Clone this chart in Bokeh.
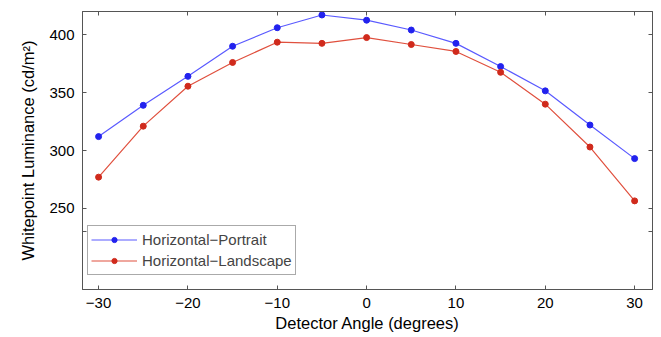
from bokeh.plotting import figure
from bokeh.models import LinearAxis, FixedTicker, Range1d, Legend, LegendItem
from bokeh.embed import file_html
from bokeh.resources import INLINE

angles = [-30, -25, -20, -15, -10, -5, 0, 5, 10, 15, 20, 25, 30]
portrait = [312, 339, 364, 390, 406, 417, 412.5, 404, 392.5, 372.5, 351.5, 322, 293]
landscape = [277, 321, 355.5, 376, 393.5, 392.5, 397.5, 391.5, 385.5, 367.5, 340, 303, 256.5]
x_ticks = [-30, -20, -10, 0, 10, 20, 30]
y_ticks = [230, 250, 300, 350, 400]
y_labels = {230: "", 250: "250", 300: "300", 350: "350", 400: "400"}

FONT = "Liberation Sans"
AXC = "#555555"

p = figure(width=661, height=337, output_backend="svg", toolbar_location=None,
           x_range=Range1d(-31.8, 32), y_range=Range1d(180, 420),
           min_border_left=82, min_border_right=9, min_border_top=11, min_border_bottom=48,
           x_axis_label="Detector Angle (degrees)",
           y_axis_label="Whitepoint Luminance (cd/m²)")
p.grid.visible = False
p.outline_line_color = AXC
p.background_fill_color = "white"
p.border_fill_color = "white"

for ax in (p.xaxis[0], p.yaxis[0]):
    ax.major_tick_in = 4
    ax.major_tick_out = 0
    ax.minor_tick_line_color = None
    ax.axis_line_color = AXC
    ax.major_tick_line_color = AXC
    ax.major_label_text_font = FONT
    ax.major_label_text_font_size = "15px"
    ax.major_label_text_color = "black"
    ax.axis_label_text_font = FONT
    ax.axis_label_text_font_size = "16.5px"
    ax.axis_label_text_font_style = "normal"
    ax.axis_label_text_color = "black"

p.xaxis[0].ticker = FixedTicker(ticks=x_ticks)
p.xaxis[0].major_label_standoff = 8
p.xaxis[0].axis_label_standoff = 3
p.yaxis[0].ticker = FixedTicker(ticks=y_ticks)
p.yaxis[0].major_label_overrides = y_labels
p.yaxis[0].major_label_standoff = 8
p.yaxis[0].axis_label_standoff = 9

top = LinearAxis(ticker=FixedTicker(ticks=x_ticks),
                 major_label_overrides={t: "" for t in x_ticks},
                 major_label_standoff=0, major_tick_in=4, major_tick_out=0,
                 minor_tick_line_color=None, axis_line_color=AXC, major_tick_line_color=AXC)
right = LinearAxis(ticker=FixedTicker(ticks=y_ticks),
                   major_label_overrides={t: "" for t in y_ticks},
                   major_label_standoff=0, major_tick_in=4, major_tick_out=0,
                   minor_tick_line_color=None, axis_line_color=AXC, major_tick_line_color=AXC)
p.add_layout(top, "above")
p.add_layout(right, "right")

BLUE_L = "#5a5aff"
BLUE_M = "#2222ee"
RED_L = "#e0503e"
RED_M = "#d02a1c"

l1 = p.line(angles, portrait, line_color=BLUE_L, line_width=1.2)
s1 = p.scatter(angles, portrait, size=6, fill_color=BLUE_M, line_color=BLUE_M)
l2 = p.line(angles, landscape, line_color=RED_L, line_width=1.2)
s2 = p.scatter(angles, landscape, size=6, fill_color=RED_M, line_color=RED_M)

legend = Legend(items=[LegendItem(label="Horizontal−Portrait", renderers=[l1, s1]),
                       LegendItem(label="Horizontal−Landscape", renderers=[l2, s2])],
                location=(5, 14), margin=0, padding=3, spacing=0,
                label_text_font=FONT, label_text_font_size="15px",
                label_height=21, glyph_height=13, glyph_width=46, label_standoff=5,
                border_line_color=AXC, border_line_width=1, background_fill_alpha=1)
p.add_layout(legend, "center")

open("out.html", "w").write(file_html(p, INLINE))
